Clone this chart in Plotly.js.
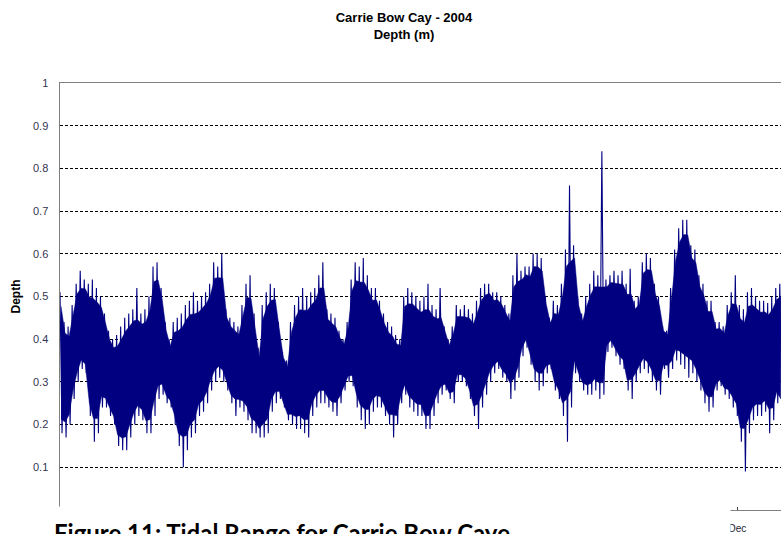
<!DOCTYPE html>
<html>
<head>
<meta charset="utf-8">
<script src="https://cdn.plot.ly/plotly-3.0.1.min.js"></script>
<style>
html,body{margin:0;padding:0;background:#ffffff;}
#chart{width:781px;height:534px;}
</style>
</head>
<body>
<div id="chart"></div>
<script>
// Readings every 2 days (day of year 2004): daily high and low depth (m)
const firstDay = 0;
const stepDays = 2;
const highs = [
 0.51,0.44,0.43,0.48,0.53,0.56,0.54,0.53,0.54,0.52,0.50,0.46,0.42,0.40,0.41,0.43,0.45,0.46,0.47,0.52,
 0.46,0.47,0.50,0.57,0.58,0.52,0.44,0.40,0.44,0.45,0.46,0.48,0.49,0.51,0.49,0.50,0.51,0.53,0.58,0.57,
 0.60,0.47,0.45,0.44,0.43,
 0.48,0.53,0.55,0.46,0.38,0.48,0.51,0.53,0.52,0.44,0.37,0.35,0.44,0.48,0.50,0.52,0.50,0.51,0.52,0.55,
 0.58,0.47,0.46,0.45,0.42,0.40,0.44,0.54,0.58,0.57,0.59,0.55,0.52,0.52,0.49,0.46,0.44,0.43,0.41,0.40,
 0.50,0.52,0.51,0.50,0.49,
 0.50,0.53,0.48,0.47,0.52,0.43,0.40,0.43,0.48,0.47,0.48,0.47,0.46,0.49,0.52,0.53,0.53,0.51,0.51,0.50,
 0.48,0.46,0.55,0.60,0.56,0.57,0.57,0.60,0.60,0.59,0.50,0.45,0.49,0.48,0.53,0.61,0.76,0.62,0.50,0.46,
 0.50,0.53,0.56,0.55,
 0.84,0.54,0.55,0.56,0.55,0.56,0.53,0.565,0.49,0.50,0.58,0.60,0.59,0.53,0.50,0.43,0.42,0.52,0.61,0.66,
 0.68,0.68,0.62,0.61,0.55,0.53,0.49,0.49,0.44,0.44,0.43,0.48,0.51,0.55,0.48,0.47,0.51,0.52,0.50,0.49,
 0.49,0.485,0.50,0.52,0.53
];
const lows = [
 0.18,0.17,0.20,0.26,0.30,0.33,0.32,0.22,0.16,0.18,0.24,0.24,0.22,0.20,0.15,0.14,0.14,0.17,0.20,0.22,
 0.21,0.18,0.18,0.22,0.26,0.27,0.25,0.24,0.20,0.15,0.10,0.14,0.17,0.18,0.22,0.23,0.25,0.28,0.30,0.31,
 0.30,0.28,0.25,0.22,0.24,
 0.23,0.21,0.18,0.18,0.17,0.17,0.18,0.23,0.25,0.26,0.24,0.21,0.20,0.19,0.19,0.18,0.17,0.22,0.24,0.25,
 0.25,0.24,0.23,0.22,0.25,0.28,0.30,0.29,0.24,0.21,0.19,0.20,0.23,0.24,0.24,0.22,0.20,0.17,0.20,0.25,
 0.27,0.24,0.23,0.22,0.22,
 0.19,0.19,0.22,0.25,0.27,0.28,0.26,0.25,0.30,0.30,0.29,0.26,0.22,0.19,0.24,0.27,0.30,0.32,0.33,0.31,
 0.30,0.26,0.28,0.31,0.36,0.38,0.34,0.30,0.28,0.29,0.32,0.33,0.28,0.26,0.22,0.16,0.24,0.32,0.30,0.28,
 0.27,0.27,0.28,0.26,
 0.27,0.37,0.38,0.36,0.34,0.33,0.28,0.26,0.30,0.32,0.33,0.32,0.30,0.28,0.27,0.33,0.31,0.33,0.35,0.34,
 0.33,0.31,0.32,0.30,0.28,0.25,0.23,0.24,0.28,0.29,0.27,0.26,0.24,0.22,0.16,0.09,0.18,0.21,0.22,0.22,
 0.23,0.18,0.21,0.25,0.23
];
const yTickValues = [0.1,0.2,0.3,0.4,0.5,0.6,0.7,0.8,0.9,1];
const monthTickDays = [335];
const monthTickLabels = ['Dec'];

// zig-zag record: high reading, then low reading half a step later
const xs = [], ys = [];
for (let i = 0; i < highs.length; i++) {
  const d = firstDay + i * stepDays;
  xs.push(d, d + stepDays / 2);
  ys.push(highs[i], lows[i]);
}
// dense core band: readings with isolated peaks/troughs trimmed, drawn a little inside the extremes
const coreShare = 0.8;
const coreX = [], coreHi = [], coreLo = [];
const n = highs.length;
for (let i = 0; i < n; i++) {
  const a = Math.max(0, i - 1), b = Math.min(n - 1, i + 1);
  const h = Math.min(highs[i], Math.max(highs[a], highs[b]));
  const l = Math.max(lows[i], Math.min(lows[a], lows[b]));
  const m = (h + l) / 2;
  coreX.push(firstDay + i * stepDays + stepDays / 4);
  coreHi.push(m + coreShare * (h - m));
  coreLo.push(m - coreShare * (m - l));
}

const navy = '#000080';
const traces = [
  {type: 'scatter', mode: 'lines', x: coreX, y: coreLo, line: {color: navy, width: 0.5},
   hoverinfo: 'skip', showlegend: false},
  {type: 'scatter', mode: 'lines', x: coreX, y: coreHi, line: {color: navy, width: 0.5},
   fill: 'tonexty', fillcolor: navy, hoverinfo: 'skip', showlegend: false},
  {type: 'scatter', mode: 'lines', x: xs, y: ys, line: {color: navy, width: 1.1},
   hoverinfo: 'skip', showlegend: false}
];

const layout = {
  width: 781, height: 534,
  margin: {l: 60, r: 0, t: 83, b: 24, pad: 0},
  paper_bgcolor: '#ffffff', plot_bgcolor: '#ffffff',
  showlegend: false,
  title: {
    text: '<b>Carrie Bow Cay - 2004</b><br><b>Depth (m)</b>',
    font: {family: 'Arial, "Liberation Sans", sans-serif', size: 13, color: '#000000'},
    x: 404 / 781, xanchor: 'center', xref: 'container',
    y: 1 - 22 / 534, yanchor: 'top', yref: 'container'
  },
  xaxis: {
    range: [0, 356.6], showline: true, mirror: true, linecolor: '#808080', linewidth: 1,
    showgrid: false, zeroline: false,
    tickmode: 'array', tickvals: monthTickDays, ticktext: monthTickLabels,
    ticks: 'inside', ticklen: 3, tickcolor: '#404040', tickwidth: 1,
    tickfont: {family: 'Arial, "Liberation Sans", sans-serif', size: 10, color: '#222233'},
    ticklabelstandoff: 9
  },
  yaxis: {
    range: [0, 1], showline: true, linecolor: '#808080', linewidth: 1.5,
    zeroline: false, showgrid: true, gridcolor: '#000000', gridwidth: 1, griddash: '3px,2px',
    tickmode: 'array', tickvals: yTickValues, ticks: '',
    tickfont: {family: 'Arial, "Liberation Sans", sans-serif', size: 11, color: '#333355'},
    ticklabelstandoff: 8,
    title: {text: '<b>Depth</b>', font: {family: 'Arial, "Liberation Sans", sans-serif', size: 12, color: '#000000'}, standoff: 10}
  },
  annotations: [{
    text: '<b>Figure 11: Tidal Range for Carrie Bow Caye</b>',
    font: {family: 'Lato, "Open Sans", sans-serif', size: 24, color: '#000000'},
    xref: 'paper', yref: 'paper',
    x: (53 - 60) / 721, y: (510 - 506) / 427,
    xanchor: 'left', yanchor: 'top',
    showarrow: false, bgcolor: '#ffffff', borderpad: 0,
    width: 676, height: 40, align: 'left', valign: 'bottom'
  }]
};

Plotly.newPlot('chart', traces, layout, {staticPlot: true, displayModeBar: false});
</script>
</body>
</html>
